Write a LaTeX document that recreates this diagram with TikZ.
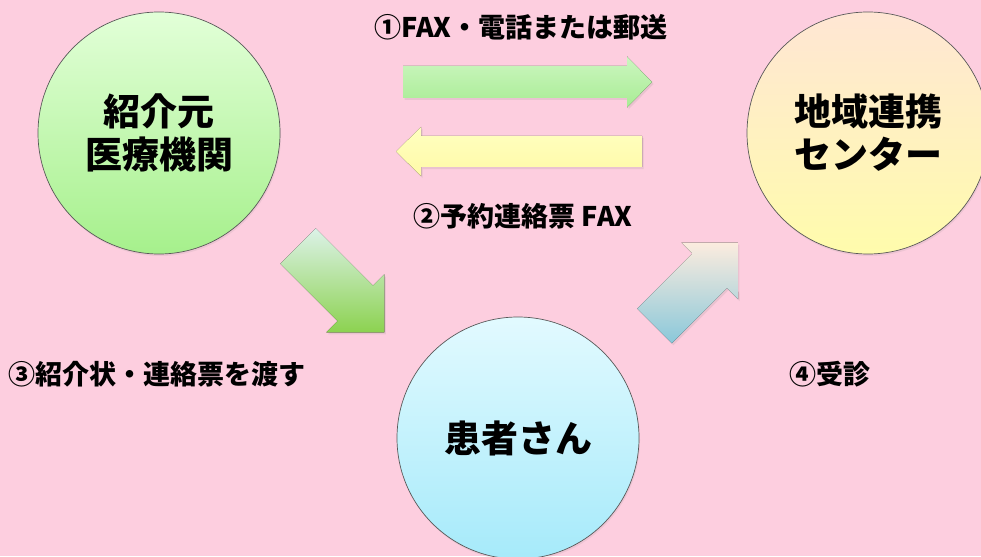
\documentclass[tikz,border=0pt]{standalone}
\usepackage{fontspec}
\setmainfont{Noto Sans CJK JP}[BoldFont={Noto Sans CJK JP Black}]
\usetikzlibrary{shadows}
\usetikzlibrary{calc}

\definecolor{bgpink}{RGB}{253,206,223}
\definecolor{greentop}{RGB}{226,255,216}
\definecolor{greenbot}{RGB}{166,240,140}
\definecolor{yellowtop}{RGB}{255,230,212}
\definecolor{yellowbot}{RGB}{255,252,172}
\definecolor{bluetop}{RGB}{226,250,255}
\definecolor{bluebot}{RGB}{166,234,250}
\definecolor{sendtop}{RGB}{204,246,192}
\definecolor{sendbot}{RGB}{168,236,148}
\definecolor{backtop}{RGB}{255,255,192}
\definecolor{backbot}{RGB}{255,250,168}
\definecolor{handtop}{RGB}{220,242,232}
\definecolor{handbot}{RGB}{140,210,80}
\definecolor{visittop}{RGB}{252,236,222}
\definecolor{visitbot}{RGB}{138,200,218}

\begin{document}
\begin{tikzpicture}[x=1pt,y=-1pt,
    circ/.style={circle,draw=black!65,line width=0.7pt,minimum size=242pt,inner sep=0pt,
        align=center,font=\fontsize{37}{43}\selectfont\bfseries,
        drop shadow={opacity=.12,shadow xshift=1pt,shadow yshift=-2pt}},
    lbl/.style={font=\fontsize{27}{30}\selectfont\bfseries},
    blk/.style={drop shadow={opacity=.15,shadow xshift=1.5pt,shadow yshift=-2pt}}]
    \fill[bgpink] (0,0) rectangle (981,556);
    \clip (0,0) rectangle (981,556);
    \useasboundingbox (0,0) rectangle (981,556);

    % circles
    \node[circ,top color=greentop,bottom color=greenbot] (clinic) at (159,133) {紹介元\\医療機関};
    \node[circ,top color=yellowtop,bottom color=yellowbot] (center) at (868,133) {地域連携\\センター};
    \node[circ,top color=bluetop,bottom color=bluebot] (patient) at (518,438) {患者さん};

    % block arrows
    \fill[blk,top color=sendtop,bottom color=sendbot]
        (403,66) -- (627,66) -- (627,56.5) -- (652,82) -- (627,107.5) -- (627,98) -- (403,98) -- cycle;
    \fill[blk,top color=backtop,bottom color=backbot]
        (642,136) -- (421,136) -- (421,127) -- (396,151.5) -- (421,176) -- (421,167) -- (642,167) -- cycle;
    \fill[blk,top color=handtop,bottom color=handbot]
        (315.7,228.3) -- (373,285.6) -- (384.3,274.3) -- (384.3,332.3) -- (326.3,332.3) -- (337.6,321) -- (280.3,263.7) -- cycle;
    \fill[blk,top color=visittop,bottom color=visitbot]
        (637.2,308.7) -- (692.4,253.5) -- (681.4,242.5) -- (737.9,242.6) -- (738,299.1) -- (727,288.1) -- (671.8,343.3) -- cycle;

    % labels
    \node[lbl] (fax) at (521,27) {①FAX・電話または郵送};
    \node[lbl] (reply) at (523,216) {②予約連絡票 FAX};
    \node[lbl,anchor=west] (hand) at (5,374) {③紹介状・連絡票を渡す};
    \node[lbl,anchor=west] (visit) at (786,374) {④受診};
\end{tikzpicture}
\end{document}
